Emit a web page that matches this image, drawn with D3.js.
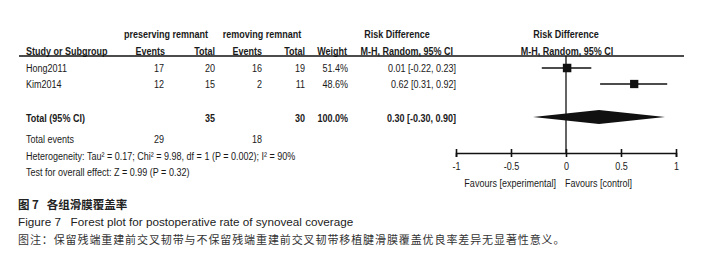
<!DOCTYPE html>
<html>
<head>
<meta charset="utf-8">
<script src="https://cdn.jsdelivr.net/npm/d3@7"></script>
<style>
  body { margin: 0; background: #fff; }
  svg { display: block; }
  .t { font-family: "Liberation Sans", Arial, sans-serif; font-size: 11px; fill: #1a1a1a; }
  .b { font-weight: bold; }
</style>
</head>
<body>
<div id="chart-area"></div>
<script>
/*
*    forest plot - rate of synoveal coverage
*/

// data
const studies = ["Hong2011", "Kim2014"]
const presEvents = [17, 12]
const presTotal = [20, 15]
const remEvents = [16, 2]
const remTotal = [19, 11]
const weights = [51.4, 48.6]
const rd = [0.01, 0.62]
const rdLow = [-0.22, 0.31]
const rdHigh = [0.23, 0.92]

const totalNums = [35, 30]
const totalEvents = [29, 18]
const pooled = [0.30, -0.30, 0.90]   // estimate, low, high

const tickVals = [-1, -0.5, 0, 0.5, 1]

const WIDTH = 701
const HEIGHT = 253
const SQUISH = 0.82   // narrow font look

const svg = d3.select("#chart-area").append("svg")
    .attr("width", WIDTH)
    .attr("height", HEIGHT)

const g = svg.append("g")

// scales
const x = d3.scaleLinear().domain([-1, 1]).range([456, 676])
const rowY = d3.scalePoint().domain(studies).range([68, 84])
const boxSize = d3.scaleSqrt().domain([0, d3.max(weights)]).range([0, 8.5])

const locale = d3.formatLocale({ decimal: ".", thousands: ",", grouping: [3], currency: ["", ""], minus: "-" })
const fmt = locale.format(".2f")
const fmtCI = (e, l, h) => fmt(e) + " [" + fmt(l) + ", " + fmt(h) + "]"

function txt(xp, yp, s, anchor, bold) {
    return g.append("text")
        .attr("class", "t" + (bold ? " b" : ""))
        .attr("transform", "translate(" + xp + "," + yp + ") scale(" + SQUISH + ",1)")
        .attr("dy", "0.35em")
        .attr("text-anchor", anchor || "start")
        .text(s)
}

/* header */
txt(166, 34, "preserving remnant", "middle", true)
txt(262, 34, "removing remnant", "middle", true)
txt(397, 34, "Risk Difference", "middle", true)
txt(566, 34, "Risk Difference", "middle", true)

txt(26, 51, "Study or Subgroup", "start", true)
txt(165, 51, "Events", "end", true)
txt(215, 51, "Total", "end", true)
txt(262, 51, "Events", "end", true)
txt(305, 51, "Total", "end", true)
txt(347, 51, "Weight", "end", true)
txt(453, 51, "M-H, Random, 95% CI", "end", true)
txt(567, 51, "M-H, Random, 95% CI", "middle", true)

g.append("line")
    .attr("x1", 19).attr("x2", 684)
    .attr("y1", 56).attr("y2", 56)
    .attr("stroke", "#111").attr("stroke-width", 1.6)

/* study rows */
studies.forEach((s, i) => {
    const y = rowY(s)
    txt(26, y, s)
    txt(164, y, presEvents[i], "end")
    txt(215, y, presTotal[i], "end")
    txt(262, y, remEvents[i], "end")
    txt(305, y, remTotal[i], "end")
    txt(348, y, weights[i].toFixed(1) + "%", "end")
    txt(456, y, fmtCI(rd[i], rdLow[i], rdHigh[i]), "end")
})

/* total row */
txt(26, 118, "Total (95% CI)", "start", true)
txt(215, 118, totalNums[0], "end", true)
txt(305, 118, totalNums[1], "end", true)
txt(348, 118, "100.0%", "end", true)
txt(456, 118, fmtCI(pooled[0], pooled[1], pooled[2]), "end", true)

txt(26, 139, "Total events")
txt(164, 139, totalEvents[0], "end")
txt(262, 139, totalEvents[1], "end")
txt(26, 156, "Heterogeneity: Tau\u00b2 = 0.17; Chi\u00b2 = 9.98, df = 1 (P = 0.002); I\u00b2 = 90%")
txt(26, 172, "Test for overall effect: Z = 0.99 (P = 0.32)")

/* plot */
g.append("line")
    .attr("x1", x(0)).attr("x2", x(0))
    .attr("y1", 56).attr("y2", 153)
    .attr("stroke", "#111").attr("stroke-width", 1.3)

g.selectAll(".ci").data(studies).enter().append("line")
    .attr("x1", (d, i) => x(rdLow[i]))
    .attr("x2", (d, i) => x(rdHigh[i]))
    .attr("y1", d => rowY(d))
    .attr("y2", d => rowY(d))
    .attr("stroke", "#111").attr("stroke-width", 1.3)

g.selectAll(".box").data(studies).enter().append("rect")
    .attr("x", (d, i) => x(rd[i]) - boxSize(weights[i]) / 2)
    .attr("y", (d, i) => rowY(d) - boxSize(weights[i]) / 2)
    .attr("width", (d, i) => boxSize(weights[i]))
    .attr("height", (d, i) => boxSize(weights[i]))
    .attr("fill", "#111")

g.append("path")
    .attr("d", "M" + x(pooled[1]) + ",117 L" + x(pooled[0]) + ",110 L" + x(pooled[2]) + ",117 L" + x(pooled[0]) + ",124 Z")
    .attr("fill", "#111")

// axis
const axis = g.append("g").attr("transform", "translate(0,153)")
    .call(d3.axisBottom(x).tickValues(tickVals).tickSize(4).tickFormat(locale.format("")))
axis.select(".domain").attr("stroke", "#111").attr("stroke-width", 1.6)
axis.selectAll(".tick line").attr("y1", -4).attr("stroke", "#111").attr("stroke-width", 1.6)
axis.selectAll(".tick text").remove()
axis.selectAll(".tick").append("text")
    .attr("class", "t")
    .attr("transform", "translate(0,13) scale(" + SQUISH + ",1)")
    .attr("dy", "0.35em")
    .attr("text-anchor", "middle")
    .text(d => locale.format("")(d))

txt(556, 183, "Favours [experimental]", "end")
txt(565, 183, "Favours [control]", "start")

/* caption */
const cap = g.append("g")
cap.append("text")
    .attr("x", 18).attr("y", 209)
    .attr("font-family", "'Noto Sans CJK SC', sans-serif")
    .attr("font-size", 11.5).attr("font-weight", "bold").attr("fill", "#222")
    .attr("xml:space", "preserve")
    .text("图 7   各组滑膜覆盖率")
cap.append("text")
    .attr("x", 18).attr("y", 226)
    .attr("font-family", "'Liberation Sans', Arial, sans-serif")
    .attr("font-size", 11.7).attr("fill", "#222")
    .attr("xml:space", "preserve")
    .text("Figure 7   Forest plot for postoperative rate of synoveal coverage")
cap.append("text")
    .attr("x", 18).attr("y", 244)
    .attr("font-family", "'Noto Sans CJK SC', sans-serif")
    .attr("font-size", 11).attr("letter-spacing", 0.9).attr("fill", "#333")
    .text("图注：保留残端重建前交叉韧带与不保留残端重建前交叉韧带移植腱滑膜覆盖优良率差异无显著性意义。")
</script>
</body>
</html>
